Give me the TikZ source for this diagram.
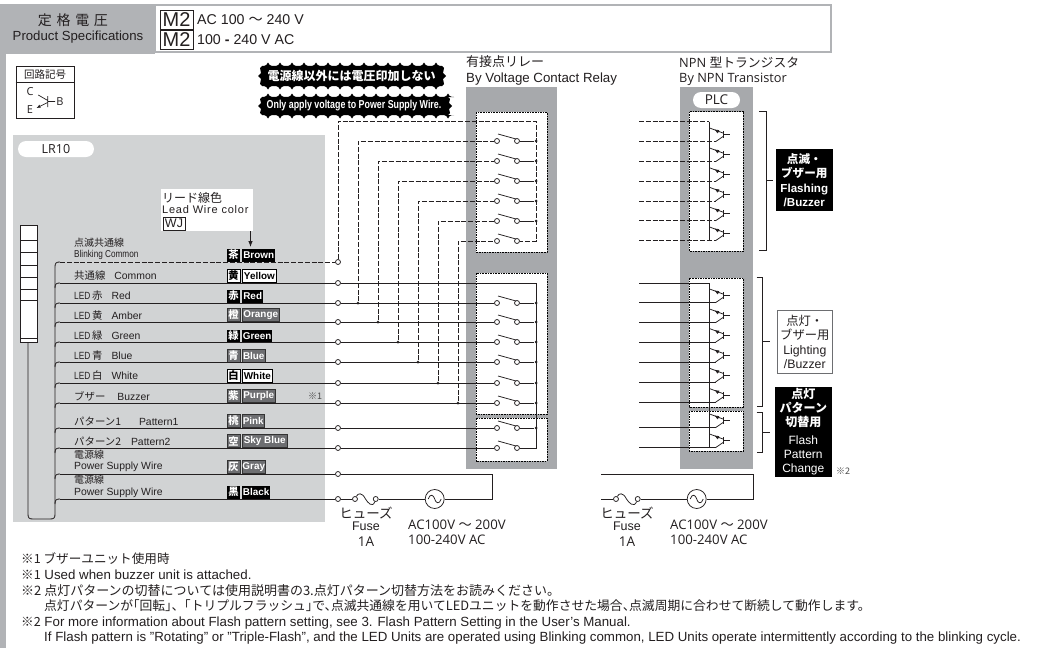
\documentclass[tikz,border=0pt]{standalone}
\usepackage{fontspec}
\usepackage{graphicx}
\setmainfont{Liberation Sans}
\newfontfamily\jpfont{Noto Sans CJK JP}
\newfontfamily\myr{Open Sans}
\newcommand\J[1]{{\jpfont #1}}
\newcommand\fsz[1]{\fontsize{#1}{#1}\selectfont}
\newcommand\pk{\hspace{-0.5em}}
\definecolor{panelgray}{HTML}{A7A9AC}
\definecolor{lightpanel}{HTML}{D1D3D4}
\definecolor{headgray}{HTML}{B1B3B6}
\definecolor{tagA}{HTML}{6D6E71}
\definecolor{txt}{HTML}{231F20}
\newcommand\burst[4]{%
  \fill[black] (#1,#2) rectangle (#3,#4);
  \pgfmathtruncatemacro\nt{round((#3-#1)/12)-1}
  \foreach \i in {0,...,\nt}{
    \pgfmathsetmacro\xa{#1+12*\i}
    \fill[black] (\xa,#2) .. controls (\xa+4,#2) and (\xa+5.5,#2-1.5) .. (\xa+6,#2-3.5) .. controls (\xa+6.5,#2-1.5) and (\xa+8,#2) .. (\xa+12,#2) -- cycle;
    \fill[black] (\xa,#4) .. controls (\xa+4,#4) and (\xa+5.5,#4+1.5) .. (\xa+6,#4+3.5) .. controls (\xa+6.5,#4+1.5) and (\xa+8,#4) .. (\xa+12,#4) -- cycle;
  }
  \pgfmathsetmacro\ymid{(#2+#4)/2}
  \fill[black] (#1,#2) -- (#1-2,#2+2) -- (#1-1,\ymid-3) -- (#1-4,\ymid) -- (#1-1,\ymid+3) -- (#1-2,#4-2) -- (#1,#4) -- cycle;
  \fill[black] (#3,#2) -- (#3+2,#2+2) -- (#3+1,\ymid-3) -- (#3+4,\ymid) -- (#3+1,\ymid+3) -- (#3+2,#4-2) -- (#3,#4) -- cycle;
}
% transistor: #1 top-of-cell y, #2 bottom wire y
\newcommand\npn[2]{%
  \pgfmathsetmacro\ya{#2-13.7}
  \pgfmathsetmacro\yb{#2-7}
  \pgfmathsetmacro\yc{#2-10.6}
  \draw[wirethin] (709.3,#1) -- (709.3,#2);
  \draw[wirethin] (723.5,\yb-1.5) -- (709.6,\ya);
  \draw[wirethin,-{Latex[length=4.5pt,width=4pt]}] (719,\yc+1) -- (714.5,\yc-1.7);
  \draw[wirethin] (723.5,\yb+1.5) -- (715.5,#2);
  \draw[wirethin] (723.5,\yb-3.5) -- (723.5,\yb+3.5);
  \draw[wirethin] (723.5,\yb) -- (729.5,\yb);
}
\usetikzlibrary{arrows.meta,calc}
\tikzset{
  wire/.style={draw=txt,line width=0.85pt},
  wirethin/.style={draw=txt,line width=0.75pt},
  dashw/.style={draw=txt,line width=0.75pt,dash pattern=on 5pt off 1.8pt},
  terminal/.style={circle,draw=txt,fill=white,line width=0.75pt,inner sep=0pt,minimum size=5pt},
  junction/.style={circle,fill=txt,inner sep=0pt,minimum size=3pt},
  dotbox/.style={draw=black,fill=white,line width=0.8pt,dash pattern=on 1.6pt off 1pt},
  pill/.style={rounded corners=8pt,fill=white,inner sep=0pt,text=txt},
  lbl/.style={anchor=west,inner sep=0pt,font=\fsz{10.4},text=txt},
  jptxt/.style={anchor=west,inner sep=0pt,font=\jpfont\fsz{10},text=txt},
  tagk/.style={inner sep=0pt,minimum width=13pt,minimum height=13pt,font=\jpfont\bfseries\fsz{10.3}},
  tagn/.style={anchor=west,inner sep=0pt,minimum height=13pt,font=\bfseries\fsz{9.9}},
  tblack/.style={fill=black,text=white},
  twhite/.style={fill=white,text=black,draw=black,line width=0.7pt},
  tgray/.style={fill=tagA,text=white,draw=black!80,line width=0.5pt},
  note/.style={anchor=west,inner sep=0pt,font=\fsz{13.3},text=txt},
  title/.style={anchor=west,inner sep=0pt,font=\fsz{13.3},text=txt},
  acsrc/.style={circle,draw=txt,fill=white,line width=0.75pt,inner sep=0pt,minimum size=19pt},
  acnote/.style={anchor=west,inner sep=0pt,font=\myr\fsz{13.2},text=txt},
}
\begin{document}
\begin{tikzpicture}[x=1pt,y=-1pt]
\useasboundingbox (0,0) rectangle (1042,648);
\fill[white] (0,0) rectangle (1042,648);
% header
\fill[headgray] (0,4) rectangle (155,53);
\fill[headgray] (0,53) rectangle (6,648);
\draw[headgray,fill=white,line width=2pt] (155,5) rectangle (831,52);
\fill[headgray] (6,52) rectangle (155,54);
\node[inner sep=0pt,font=\jpfont\fsz{14},text=txt] (hj) at (73,20) {定\,\,格\,\,電\,\,圧};
\node[inner sep=0pt,font=\fsz{13.2},text=txt] (he) at (78,37) {Product Specifications};
\node[draw=txt,line width=0.8pt,inner sep=0pt,minimum width=33pt,minimum height=19pt,font=\fsz{20},text=txt] (m1) at (176.5,19.5) {M2};
\node[draw=txt,line width=0.8pt,inner sep=0pt,minimum width=33pt,minimum height=19pt,font=\fsz{20},text=txt] (m2) at (176.5,39.5) {M2};
\node[anchor=west,inner sep=0pt,font=\fsz{14.2},text=txt] (v1) at (197,20) {AC 100 \J{～} 240 V};
\node[anchor=west,inner sep=0pt,font=\fsz{14.2},text=txt] (v2) at (197,40) {100 \textbf{-} 240 V AC};
% symbol box
\node[draw=txt,line width=0.8pt,minimum width=58pt,minimum height=52pt,inner sep=0pt,fill=white] (symb) at (45,92) {};
\draw[txt,line width=0.8pt] (symb.west |- 0,82) -- (symb.east |- 0,82);
\node[inner sep=0pt,font=\jpfont\fsz{10.5},text=txt] (symt) at (45,75) {回路記号};
\node[inner sep=0pt,font=\myr\fsz{11},text=txt] (symc) at (30,92) {C};
\node[inner sep=0pt,font=\myr\fsz{11},text=txt] (syme) at (30,110) {E};
\node[inner sep=0pt,font=\myr\fsz{11},text=txt] (symbb) at (60,101.5) {B};
\draw[txt,line width=0.7pt] (47.7,96) -- (47.7,107) (47.7,101.5) -- (55,101.5) (38.3,95) -- (47.7,100.5);
\draw[txt,line width=0.7pt,-{Latex[length=4pt,width=3.5pt]}] (47.7,102.5) -- (36.5,108);
% warning bursts
\burst{262}{66}{442}{86}
\burst{262}{97}{448}{115}
\node[inner sep=0pt,font=\jpfont\bfseries\fsz{12},text=white] (w1) at (351.5,76) {電源線以外には電圧印加しない};
\node[inner sep=0pt,text=white] (w2) at (354,106) {\scalebox{0.77}[1]{\fsz{11.5}\bfseries Only apply voltage to Power Supply Wire.}};
% LR10 panel
\fill[lightpanel] (13,135) rectangle (325,522);
\node[pill,minimum width=76pt,minimum height=16pt,font=\myr\fsz{12.5}] (lr) at (56,149) {LR10};
% lead wire box
\fill[white] (161,189) rectangle (253,231);
\node[anchor=west,inner sep=0pt,font=\jpfont\fsz{12},text=txt] (lw1) at (162,198) {リード線色};
\node[anchor=west,inner sep=0pt,font=\fsz{11},text=txt] (lw2) at (162,209.5) {\addfontfeature{LetterSpace=7}Lead Wire color};
\node[draw=txt,line width=0.7pt,inner sep=0pt,minimum width=22pt,minimum height=13pt,font=\fsz{12.5},text=txt] (wj) at (174,223.5) {WJ};
\coordinate (lwa) at (250.5,231);
\coordinate (lwb) at (250.5,247);
\draw[txt,line width=0.8pt,-{Latex[length=6pt,width=4.5pt]}] (lwa) -- (lwb);
% tower
\draw[txt,fill=white,line width=0.8pt] (20,225) rectangle (37,342);
\foreach \y in {240,252,265,277,289,300,338}{\draw[txt,line width=0.8pt] (20,\y) -- (37,\y);}
% relay panel
\fill[panelgray] (466,87) rectangle (557,469);
\draw[dotbox] (476,112) rectangle (547,252);
\draw[dotbox] (476,273) rectangle (547,414);
\draw[dotbox] (476,418) rectangle (547,461);
% transistor panel
\fill[panelgray] (680,87) rectangle (753,469);
\node[pill,minimum width=47pt,minimum height=16pt,font=\myr\fsz{13.5}] (plc) at (716.5,100) {PLC};
\draw[dotbox] (689.3,111.5) rectangle (743.3,251);
\draw[dotbox] (689.3,278) rectangle (743.3,407);
\draw[dotbox] (689.3,411) rectangle (743.3,451);
% titles
\node[anchor=west,inner sep=0pt,font=\jpfont\fsz{13},text=txt] (t1a) at (466,62) {有接点リレー};
\node[title] (t1b) at (466,79) {By Voltage Contact Relay};
\node[anchor=west,inner sep=0pt,font=\fsz{12.8},text=txt] (t2a) at (679,62) {\myr NPN \J{型トランジスタ}};
\node[anchor=west,inner sep=0pt,font=\myr\fsz{12.8},text=txt] (t2b) at (679,79) {By NPN Transistor};
% wire labels
\node[jptxt] (la1) at (74,243) {点滅共通線};
\node[lbl] (la2) at (74,255) {\scalebox{0.82}[1]{\fsz{10}Blinking Common}};
\node[lbl] (lb) at (74,276) {\J{共通線}\hspace{9pt}Common};
\node[lbl] (lc) at (74,296) {\scalebox{0.8}[1]{LED}\,\J{赤}\hspace{9pt}Red};
\node[lbl] (ld) at (74,315.5) {\scalebox{0.8}[1]{LED}\,\J{黄}\hspace{9pt}Amber};
\node[lbl] (le) at (74,336) {\scalebox{0.8}[1]{LED}\,\J{緑}\hspace{9pt}Green};
\node[lbl] (lf) at (74,356) {\scalebox{0.8}[1]{LED}\,\J{青}\hspace{9pt}Blue};
\node[lbl] (lg) at (74,376) {\scalebox{0.8}[1]{LED}\,\J{白}\hspace{9pt}White};
\node[lbl] (lh) at (74,396) {\J{ブザー}\hspace{12pt}Buzzer};
\node[lbl] (li) at (74,421) {\J{パターン1}\hspace{18pt}Pattern1};
\node[lbl] (lj) at (74,441) {\J{パターン2}\hspace{10pt}Pattern2};
\node[jptxt] (lk1) at (74,455) {電源線};
\node[lbl] (lk2) at (74,467) {Power Supply Wire};
\node[jptxt] (ll1) at (74,480) {電源線};
\node[lbl] (ll2) at (74,492.5) {Power Supply Wire};
% colour tags
\foreach \nm/\y/\k/\e/\w/\s in {
  a/255/茶/Brown/33/tblack, b/276/黄/Yellow/34/twhite, c/296/赤/Red/21/tblack,
  d/315/橙/Orange/37/tgray, e/336/緑/Green/30/tblack, f/356/青/Blue/23/tgray,
  g/375.5/白/White/30/twhite, h/396/紫/Purple/33/tgray, i/421/桃/Pink/22/tgray,
  j/441/空/Sky Blue/45/tgray, k/467/灰/Gray/23/tgray, l/492/黒/Black/28/tblack}{
  \node[tagk,\s] (k\nm) at (233.5,\y) {\k};
  \node[tagn,\s,minimum width=\w pt] (n\nm) at (242,\y) {\e};
}
\node[inner sep=0pt,font=\jpfont\fsz{9},text=black!70] (s1) at (315,396) {※1};
% terminals
\foreach \n/\y in {L/262,C/283,R/303,O/322,G/342,B/362,W/383,U/403,P/428,Q/448,S/474,K/499}{
  \node[terminal] (t\n) at (338,\y) {};
}
% lead bus and branches
\draw[wire] (28,342) -- (28,514) .. controls (28,518) and (29,519) .. (33,519) -- (50,519) .. controls (54,519) and (55,518) .. (55,514) -- (55,267);
\foreach \y in {283,303,322,342,362,383,403,428,448,474,499}{
  \draw[wire] (55,\y+5) .. controls (55,\y+1) and (56,\y) .. (60,\y);
}
\draw[wire] (55,267) .. controls (55,263) and (56,262) .. (60,262);
\coordinate (bL) at (60,262);
\draw[dashw] (bL) -- (tL);
\foreach \n/\y in {C/283,R/303,O/322,G/342,B/362,W/383,U/403,P/428,Q/448,S/474,K/499}{
  \coordinate (b\n) at (60,\y);
  \draw[wire] (b\n) -- (t\n);
}
% relay switches - flashing group
\foreach \i/\y in {1/141,2/161,3/181,4/201,5/221,6/241}{
  \node[terminal] (sa\i) at (497,\y) {};
  \node[terminal] (sb\i) at (517,\y) {};
  \draw[wirethin] (498,\y-7) -- (516,\y-2);
}
\coordinate (ctop) at (536,121);
\coordinate (cbot) at (536,241);
\draw[dashw] (tL) |- (ctop) -- (cbot) -- (sb6);
\foreach \i/\y in {1/141,2/161,3/181,4/201,5/221}{
  \node[junction] (jf\i) at (536,\y) {};
  \draw[wirethin] (sb\i) -- (jf\i);
}
% relay switches - lighting group
\foreach \n/\y in {R/303,O/322,G/342,B/362,W/383,U/403,P/428,Q/448}{
  \node[terminal] (sa\n) at (497,\y) {};
  \node[terminal] (sb\n) at (517,\y) {};
  \draw[wirethin] (498,\y-7) -- (516,\y-2);
  \draw[wire] (t\n) -- (sa\n);
}
\foreach \n/\y in {R/303,O/322,G/342,B/362,W/383,U/403,P/428}{
  \node[junction] (jr\n) at (536,\y) {};
  \draw[wirethin] (sb\n) -- (jr\n);
}
\coordinate (cQ) at (536,448);
\draw[wire] (tC) -| (cQ) -- (sbQ);
% taps from flashing dashed wires
\foreach \n/\x/\y/\i in {R/358/303/1,O/378/322/2,G/398/342/3,B/418/362/4,W/438/383/5,U/458/403/6}{
  \node[junction] (d\n) at (\x,\y) {};
  \draw[dashw] (d\n) |- (sa\i);
}
% power side, relay
\coordinate (pa) at (492,474);
\coordinate (pb) at (492,499);
\node[terminal] (fa) at (355,499) {};
\node[terminal] (fb) at (375.7,499) {};
\node[acsrc] (ac1) at (434.7,499) {};
\draw[wire] (tS) -- (pa) -- (pb) -- (ac1);
\draw[wire] (ac1) -- (fb);
\draw[wire] (tK) -- (fa);
\draw[wirethin] (fa) .. controls (358,493) and (362,492) .. (365.5,499) .. controls (368,503) and (372.5,508) .. (fb);
\draw[wirethin] ($(ac1.center)+(-6.5,0)$) .. controls +(2,-6) and +(-1,-4) .. (ac1.center) .. controls +(1,4) and +(-2,6) .. ($(ac1.center)+(6.5,0)$);
\node[inner sep=0pt,font=\jpfont\fsz{13.5},text=txt] (fl1) at (366,513) {ヒューズ};
\node[inner sep=0pt,font=\fsz{12.5},text=txt] (fl2) at (366,526.5) {Fuse};
\node[inner sep=0pt,font=\myr\fsz{13.5},text=txt] (fl3) at (366,542) {1A};
\node[acnote] (ac1a) at (408,525) {AC100V \J{～} 200V};
\node[acnote] (ac1b) at (408,539.5) {100-240V AC};
% transistor wires: flashing
\foreach \i/\y in {1/121.7,2/141.7,3/161.7,4/181.5,5/201,6/220.8,7/240.7}{
  \coordinate (fw\i) at (639,\y);
}
\coordinate (fe1) at (709.3,121.7);
\draw[dashw] (fw1) -- (fe1);
\foreach \i/\y in {2/141.7,3/161.7,4/181.5,5/201,6/220.8,7/240.7}{
  \coordinate (fe\i) at (716,\y);
  \draw[dashw] (fw\i) -- (fe\i);
}
\npn{121.7}{141.7}
\npn{141.7}{161.7}
\npn{161.7}{181.5}
\npn{181.5}{201}
\npn{201}{220.8}
\draw[wirethin] (709.3,220.8) -- (709.3,227.1);
\npn{227}{240.7}
% transistor wires: lighting
\foreach \i/\y in {1/283,2/302.7,3/322.7,4/342.3,5/362,6/382,7/402.3,8/427.7,9/447.7}{
  \coordinate (lw\i) at (639,\y);
}
\coordinate (le1) at (709.3,283);
\draw[wire] (lw1) -- (le1);
\foreach \i/\y in {2/302.7,3/322.7,4/342.3,5/362,6/382,7/402.3,8/427.7,9/447.7}{
  \coordinate (le\i) at (716,\y);
  \draw[wire] (lw\i) -- (le\i);
}
\npn{283}{302.7}
\npn{302.7}{322.7}
\npn{322.7}{342.3}
\npn{342.3}{362}
\npn{362}{382}
\npn{382}{402.3}
\npn{402.3}{427.7}
\draw[wirethin] (709.3,427.7) -- (709.3,434);
\npn{434}{447.7}
% brackets
\draw[txt,line width=0.8pt] (759,111) -- (766,111) -- (766,250) -- (759,250) (766,180.7) -- (773,180.7);
\draw[txt,line width=0.8pt] (756.7,277) -- (762.7,277) -- (762.7,406.7) -- (756.7,406.7) (762.7,341.7) -- (770,341.7);
\draw[txt,line width=0.8pt] (756.7,412) -- (762.7,412) -- (762.7,452.7) -- (756.7,452.7) (762.7,432.7) -- (770,432.7);
% category boxes
\node[fill=black,text=white,minimum width=57pt,minimum height=62pt,inner sep=0pt,align=center,font=\fontsize{11.6}{14.5}\selectfont] (cb1) at (804.3,180) {\J{\bfseries 点滅・}\\\J{\bfseries ブザー用}\\\textbf{Flashing}\\\textbf{/Buzzer}};
\node[draw=tagA,fill=white,text=txt,line width=0.9pt,minimum width=55pt,minimum height=63pt,inner sep=0pt,align=center,font=\fontsize{12.3}{14.5}\selectfont] (cb2) at (804.8,341.7) {\J{点灯・}\\\J{ブザー用}\\Lighting\\/Buzzer};
\node[fill=black,text=white,minimum width=57pt,minimum height=90pt,inner sep=0pt,align=center,font=\fontsize{12}{14}\selectfont] (cb3) at (803.3,431.8) {\J{\bfseries 点灯}\\\J{\bfseries パターン}\\\J{\bfseries 切替用}\\[3.5pt]Flash\\Pattern\\Change};
\node[inner sep=0pt,font=\jpfont\fsz{9},text=black!70] (s2) at (843,471) {※2};
% power side, transistor
\coordinate (qa) at (601,474);
\coordinate (qb) at (753.3,474);
\coordinate (qc) at (753.3,499);
\coordinate (qd) at (601,499);
\node[terminal] (ga) at (616,499) {};
\node[terminal] (gb) at (637.7,499) {};
\node[acsrc] (ac2) at (696.7,499) {};
\draw[wire] (qa) -- (qb) -- (qc) -- (ac2);
\draw[wire] (ac2) -- (gb);
\draw[wire] (qd) -- (ga);
\draw[wirethin] (ga) .. controls (619,493) and (623,492) .. (626.5,499) .. controls (629,503) and (634,508) .. (gb);
\draw[wirethin] ($(ac2.center)+(-6.5,0)$) .. controls +(2,-6) and +(-1,-4) .. (ac2.center) .. controls +(1,4) and +(-2,6) .. ($(ac2.center)+(6.5,0)$);
\node[inner sep=0pt,font=\jpfont\fsz{13.5},text=txt] (gl1) at (627,513) {ヒューズ};
\node[inner sep=0pt,font=\fsz{12.5},text=txt] (gl2) at (627,526.5) {Fuse};
\node[inner sep=0pt,font=\myr\fsz{13.5},text=txt] (gl3) at (627,542) {1A};
\node[acnote] (ac2a) at (670,525) {AC100V \J{～} 200V};
\node[acnote] (ac2b) at (670,539.5) {100-240V AC};
% notes
\node[note] (n1) at (21,559) {\J{\fsz{12.6}※1 ブザーユニット使用時}};
\node[note] (n2) at (21,575) {\J{\fsz{12.6}※1} Used when buzzer unit is attached.};
\node[note] (n3) at (21,590.5) {\J{\fsz{13}※2 点灯パターンの切替については使用説明書の3.点灯パターン切替方法をお読みください。}};
\node[note] (n4) at (44,606) {\J{\fsz{12.8}点灯パターンが\pk「回転」\pk、\pk「トリプルフラッシュ」\pk で、\pk 点滅共通線を用いてLEDユニットを動作させた場合、\pk 点滅周期に合わせて断続して動作します。}};
\node[note] (n5) at (21,623) {\J{\fsz{12.6}※2} For more information about Flash pattern setting, see 3. Flash Pattern Setting in the User's Manual.};
\node[note] (n6) at (44,638) {If Flash pattern is "Rotating" or "Triple-Flash", and the LED Units are operated using Blinking common, LED Units operate intermittently according to the blinking cycle.};
\end{tikzpicture}
\end{document}
